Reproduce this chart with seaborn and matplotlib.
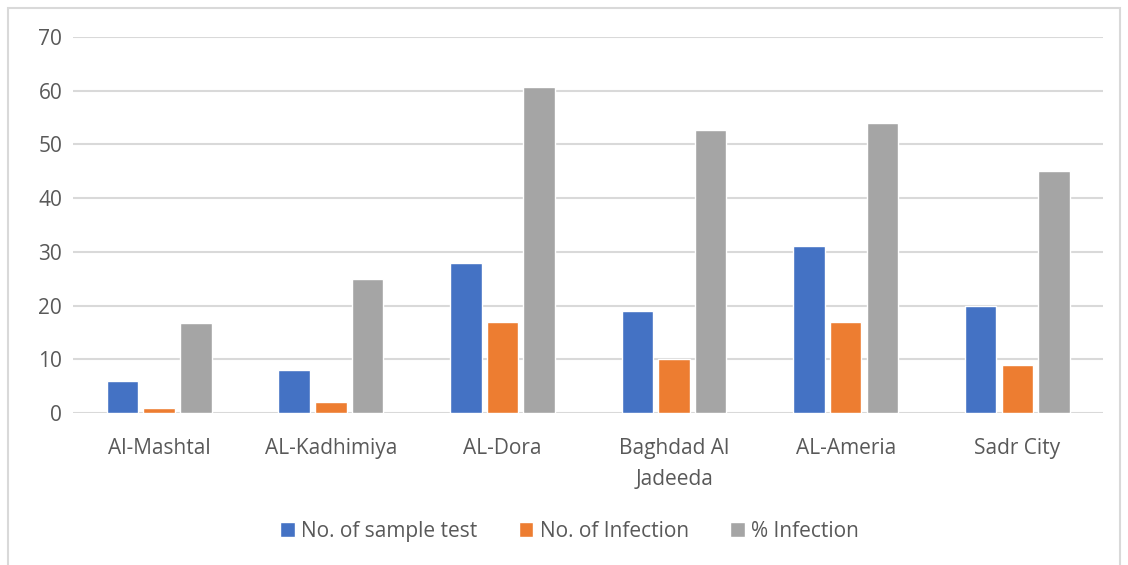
import pandas as pd
import matplotlib.pyplot as plt
import seaborn as sns
from matplotlib.patches import Rectangle, Patch

regions = ['Al-Mashtal', 'AL-Kadhimiya', 'AL-Dora', 'Baghdad Al\nJadeeda', 'AL-Ameria', 'Sadr City']
sample_tests = [6, 8, 28, 19, 31, 20]
infections = [1, 2, 17, 10, 17, 9]
pct_infection = [16.67, 25, 60.71, 52.63, 54.0, 45]

series_names = ['No. of sample test', 'No. of Infection', '% Infection']
colors = ['#4472C4', '#ED7D31', '#A5A5A5']

df = pd.DataFrame({
    'region': regions * 3,
    'value': sample_tests + infections + pct_infection,
    'series': [s for s in series_names for _ in regions],
})

sns.set_style('white')
plt.rcParams['font.family'] = ['Open Sans', 'DejaVu Sans']

fig = plt.figure(figsize=(11.28, 5.65), dpi=100)
ax = fig.add_axes([0.065, 0.269, 0.913, 0.6655])

sns.barplot(data=df, x='region', y='value', hue='series', palette=colors,
            width=0.64, gap=0.14, ax=ax, legend=False, saturation=1)

ax.set_ylim(0, 70)
ax.set_yticks(range(0, 71, 10))
ax.set_xlim(-0.5, len(regions) - 0.5)
ax.yaxis.grid(True, color='#D9D9D9', linewidth=1.5)
ax.set_axisbelow(True)
for s in ax.spines.values():
    s.set_visible(False)
ax.tick_params(axis='both', length=0, labelsize=15, labelcolor='#595959')
ax.tick_params(axis='x', pad=18)
ax.tick_params(axis='y', pad=8)
for lbl in ax.get_xticklabels():
    lbl.set_linespacing(1.6)
ax.set_xlabel('')
ax.set_ylabel('')

handles = [Patch(facecolor=c, label=n) for c, n in zip(colors, series_names)]
fig.legend(handles=handles, loc='center', bbox_to_anchor=(0.505, 0.06), ncol=3,
           frameon=False, fontsize=15, labelcolor='#595959',
           handlelength=0.7, handleheight=0.7, handletextpad=0.3, columnspacing=2.0)

fig.patches.append(Rectangle((0.007, -0.01), 0.986, 0.996, transform=fig.transFigure,
                             fill=False, edgecolor='#D9D9D9', linewidth=1.5))

plt.savefig('out.png', dpi=100)
